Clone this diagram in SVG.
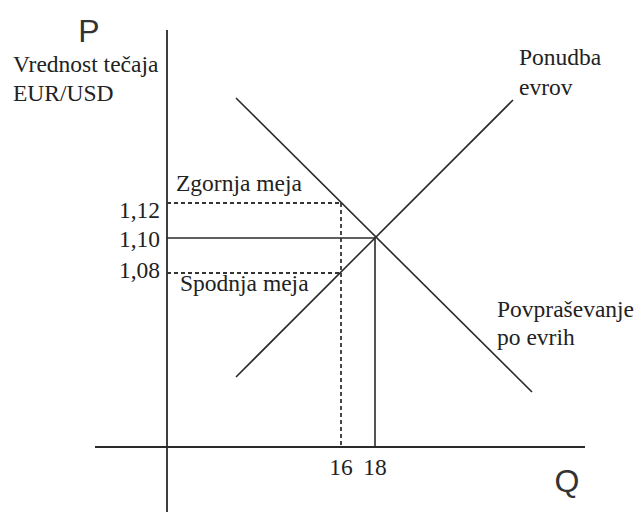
<svg xmlns="http://www.w3.org/2000/svg" width="640" height="512" viewBox="0 0 640 512">
<style>
.ax{stroke:#2a2a2a;stroke-width:1.8;fill:none}
.ln{stroke:#2a2a2a;stroke-width:1.6;fill:none}
.ds{stroke:#333;stroke-width:1.8;fill:none;stroke-dasharray:4,3}
.t{font-family:"Liberation Serif","Times New Roman",serif;font-size:23.5px;fill:#222}
.s{font-family:"Liberation Sans",Arial,sans-serif;font-size:32px;fill:#333}
</style>
<rect width="640" height="512" fill="#fff"/>
<g id="axes">
<line class="ax" x1="167" y1="30" x2="167" y2="512"/>
<line class="ax" x1="95" y1="447" x2="585" y2="447"/>
<text class="s" x="89" y="42" text-anchor="middle">P</text>
<text class="s" x="567" y="492" text-anchor="middle">Q</text>
<text class="t" x="13" y="72">Vrednost tečaja</text>
<text class="t" x="13" y="101">EUR/USD</text>
</g>
<g id="connectors">
<line id="demand" class="ln" x1="236" y1="98" x2="532" y2="392"/>
<line id="supply" class="ln" x1="236" y1="377" x2="513" y2="100"/>
<line class="ln" x1="167" y1="238" x2="375" y2="238"/>
<line class="ln" x1="375" y1="238" x2="375" y2="447"/>
<line class="ds" x1="167" y1="203" x2="341" y2="203"/>
<line class="ds" x1="167" y1="273" x2="341" y2="273"/>
<line class="ds" x1="341" y1="203" x2="341" y2="447"/>
</g>
<g id="labels">
<text class="t" x="160" y="218" text-anchor="end">1,12</text>
<text class="t" x="160" y="247" text-anchor="end">1,10</text>
<text class="t" x="160" y="278" text-anchor="end">1,08</text>
<text class="t" x="176" y="191">Zgornja meja</text>
<text class="t" x="180" y="291">Spodnja meja</text>
<text class="t" x="341" y="475" text-anchor="middle">16</text>
<text class="t" x="375" y="475" text-anchor="middle">18</text>
<text class="t" x="519" y="65">Ponudba</text>
<text class="t" x="519" y="95">evrov</text>
<text class="t" x="497" y="317">Povpraševanje</text>
<text class="t" x="497" y="345">po evrih</text>
</g>
</svg>
